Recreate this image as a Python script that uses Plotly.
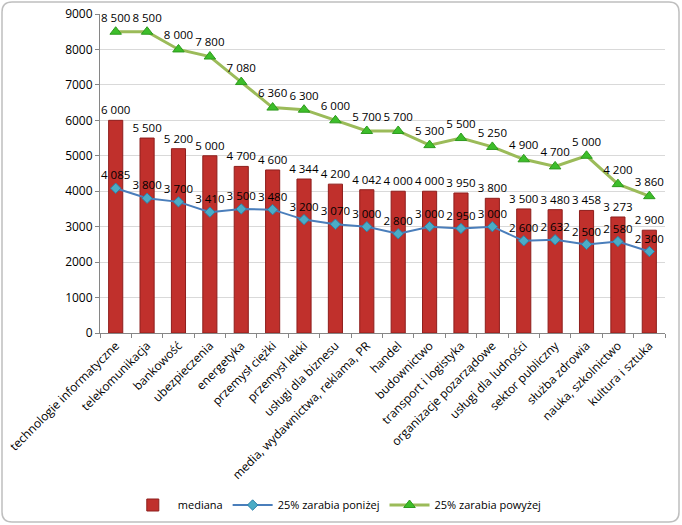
import plotly.graph_objects as go

categories = ["technologie informatyczne", "telekomunikacja", "bankowość", "ubezpieczenia",
              "energetyka", "przemysł ciężki", "przemysł lekki", "usługi dla biznesu",
              "media, wydawnictwa, reklama, PR", "handel", "budownictwo", "transport i logistyka",
              "organizacje pozarządowe", "usługi dla ludności", "sektor publiczny",
              "służba zdrowia", "nauka, szkolnictwo", "kultura i sztuka"]
mediana = [6000, 5500, 5200, 5000, 4700, 4600, 4344, 4200, 4042, 4000, 4000, 3950, 3800,
           3500, 3480, 3458, 3273, 2900]
ponizej = [4085, 3800, 3700, 3410, 3500, 3480, 3200, 3070, 3000, 2800, 3000, 2950, 3000,
           2600, 2632, 2500, 2580, 2300]
powyzej = [8500, 8500, 8000, 7800, 7080, 6360, 6300, 6000, 5700, 5700, 5300, 5500, 5250,
           4900, 4700, 5000, 4200, 3860]
y_ticks = [0, 1000, 2000, 3000, 4000, 5000, 6000, 7000, 8000, 9000]

FONT = "Open Sans"
W, H = 682, 525
L, R, T, B = 100, 17, 14, 192

fig = go.Figure()
fig.add_trace(go.Bar(
    x=categories, y=mediana, name="mediana",
    marker=dict(color="#C0302C", line=dict(color="#8E1E1C", width=1)),
    width=0.45,
    text=mediana, texttemplate="%{y:,}", textposition="outside", constraintext="none",
    textfont=dict(family=FONT, size=11.5, color="#000"), cliponaxis=False,
))
fig.add_trace(go.Scatter(
    x=categories, y=ponizej, name="25% zarabia poniżej", mode="lines+markers+text",
    line=dict(color="#4A7EBB", width=2),
    marker=dict(symbol="diamond", size=8, color="#4BACC6", line=dict(color="#2C7FA8", width=1)),
    text=ponizej, texttemplate="%{y:,}", textposition="top center",
    textfont=dict(family=FONT, size=11.5, color="#000"), cliponaxis=False,
))
fig.add_trace(go.Scatter(
    x=categories, y=powyzej, name="25% zarabia powyżej", mode="lines+markers+text",
    line=dict(color="#9BBB59", width=3),
    marker=dict(symbol="triangle-up", size=10, color="#3DBE2A", line=dict(color="#2E9A1E", width=1)),
    text=powyzej, texttemplate="%{y:,}", textposition="top center",
    textfont=dict(family=FONT, size=11.5, color="#000"), cliponaxis=False,
))

# rounded border around whole chart
pw, ph = W - L - R, H - T - B
def px(x): return (x - L) / pw
def py(y): return (H - B - y) / ph
x0, x1, y0, y1, r = 2, 679, 2, 522, 10
path = (f"M {px(x0+r)},{py(y0)} L {px(x1-r)},{py(y0)} Q {px(x1)},{py(y0)} {px(x1)},{py(y0+r)} "
        f"L {px(x1)},{py(y1-r)} Q {px(x1)},{py(y1)} {px(x1-r)},{py(y1)} "
        f"L {px(x0+r)},{py(y1)} Q {px(x0)},{py(y1)} {px(x0)},{py(y1-r)} "
        f"L {px(x0)},{py(y0+r)} Q {px(x0)},{py(y0)} {px(x0+r)},{py(y0)} Z")

fig.update_layout(
    width=W, height=H, margin=dict(l=L, r=R, t=T, b=B, autoexpand=False),
    paper_bgcolor="white", plot_bgcolor="white",
    separators=", ",
    font=dict(family=FONT, size=11, color="#000"),
    showlegend=True,
    legend=dict(orientation="h", x=0.42, xanchor="center", y=py(505), yanchor="middle",
                font=dict(family=FONT, size=11), itemwidth=40, traceorder="normal"),
    shapes=[dict(type="path", path=path, xref="paper", yref="paper",
                 line=dict(color="#BFBFBF", width=1.5), layer="below")],
    bargap=0.55,
)
fig.update_xaxes(range=[-0.5, len(categories) - 0.5],
                 tickangle=-45, ticks="outside", tickson="boundaries", ticklen=4,
                 tickcolor="#868686", showline=True, linecolor="#868686", automargin=False,
                 tickfont=dict(family=FONT, size=12), showgrid=False)
fig.update_yaxes(range=[0, 9000], tickvals=y_ticks, ticktext=[str(v) for v in y_ticks],
                 showgrid=True, gridcolor="#D9D9D9", showline=True, linecolor="#868686",
                 ticks="outside", ticklen=4, tickcolor="#868686", automargin=False,
                 tickfont=dict(family=FONT, size=12), zeroline=False)

fig.write_html("out.html", config={"displayModeBar": False},
               post_script="document.body.style.margin='0';document.body.style.overflow='hidden';")
